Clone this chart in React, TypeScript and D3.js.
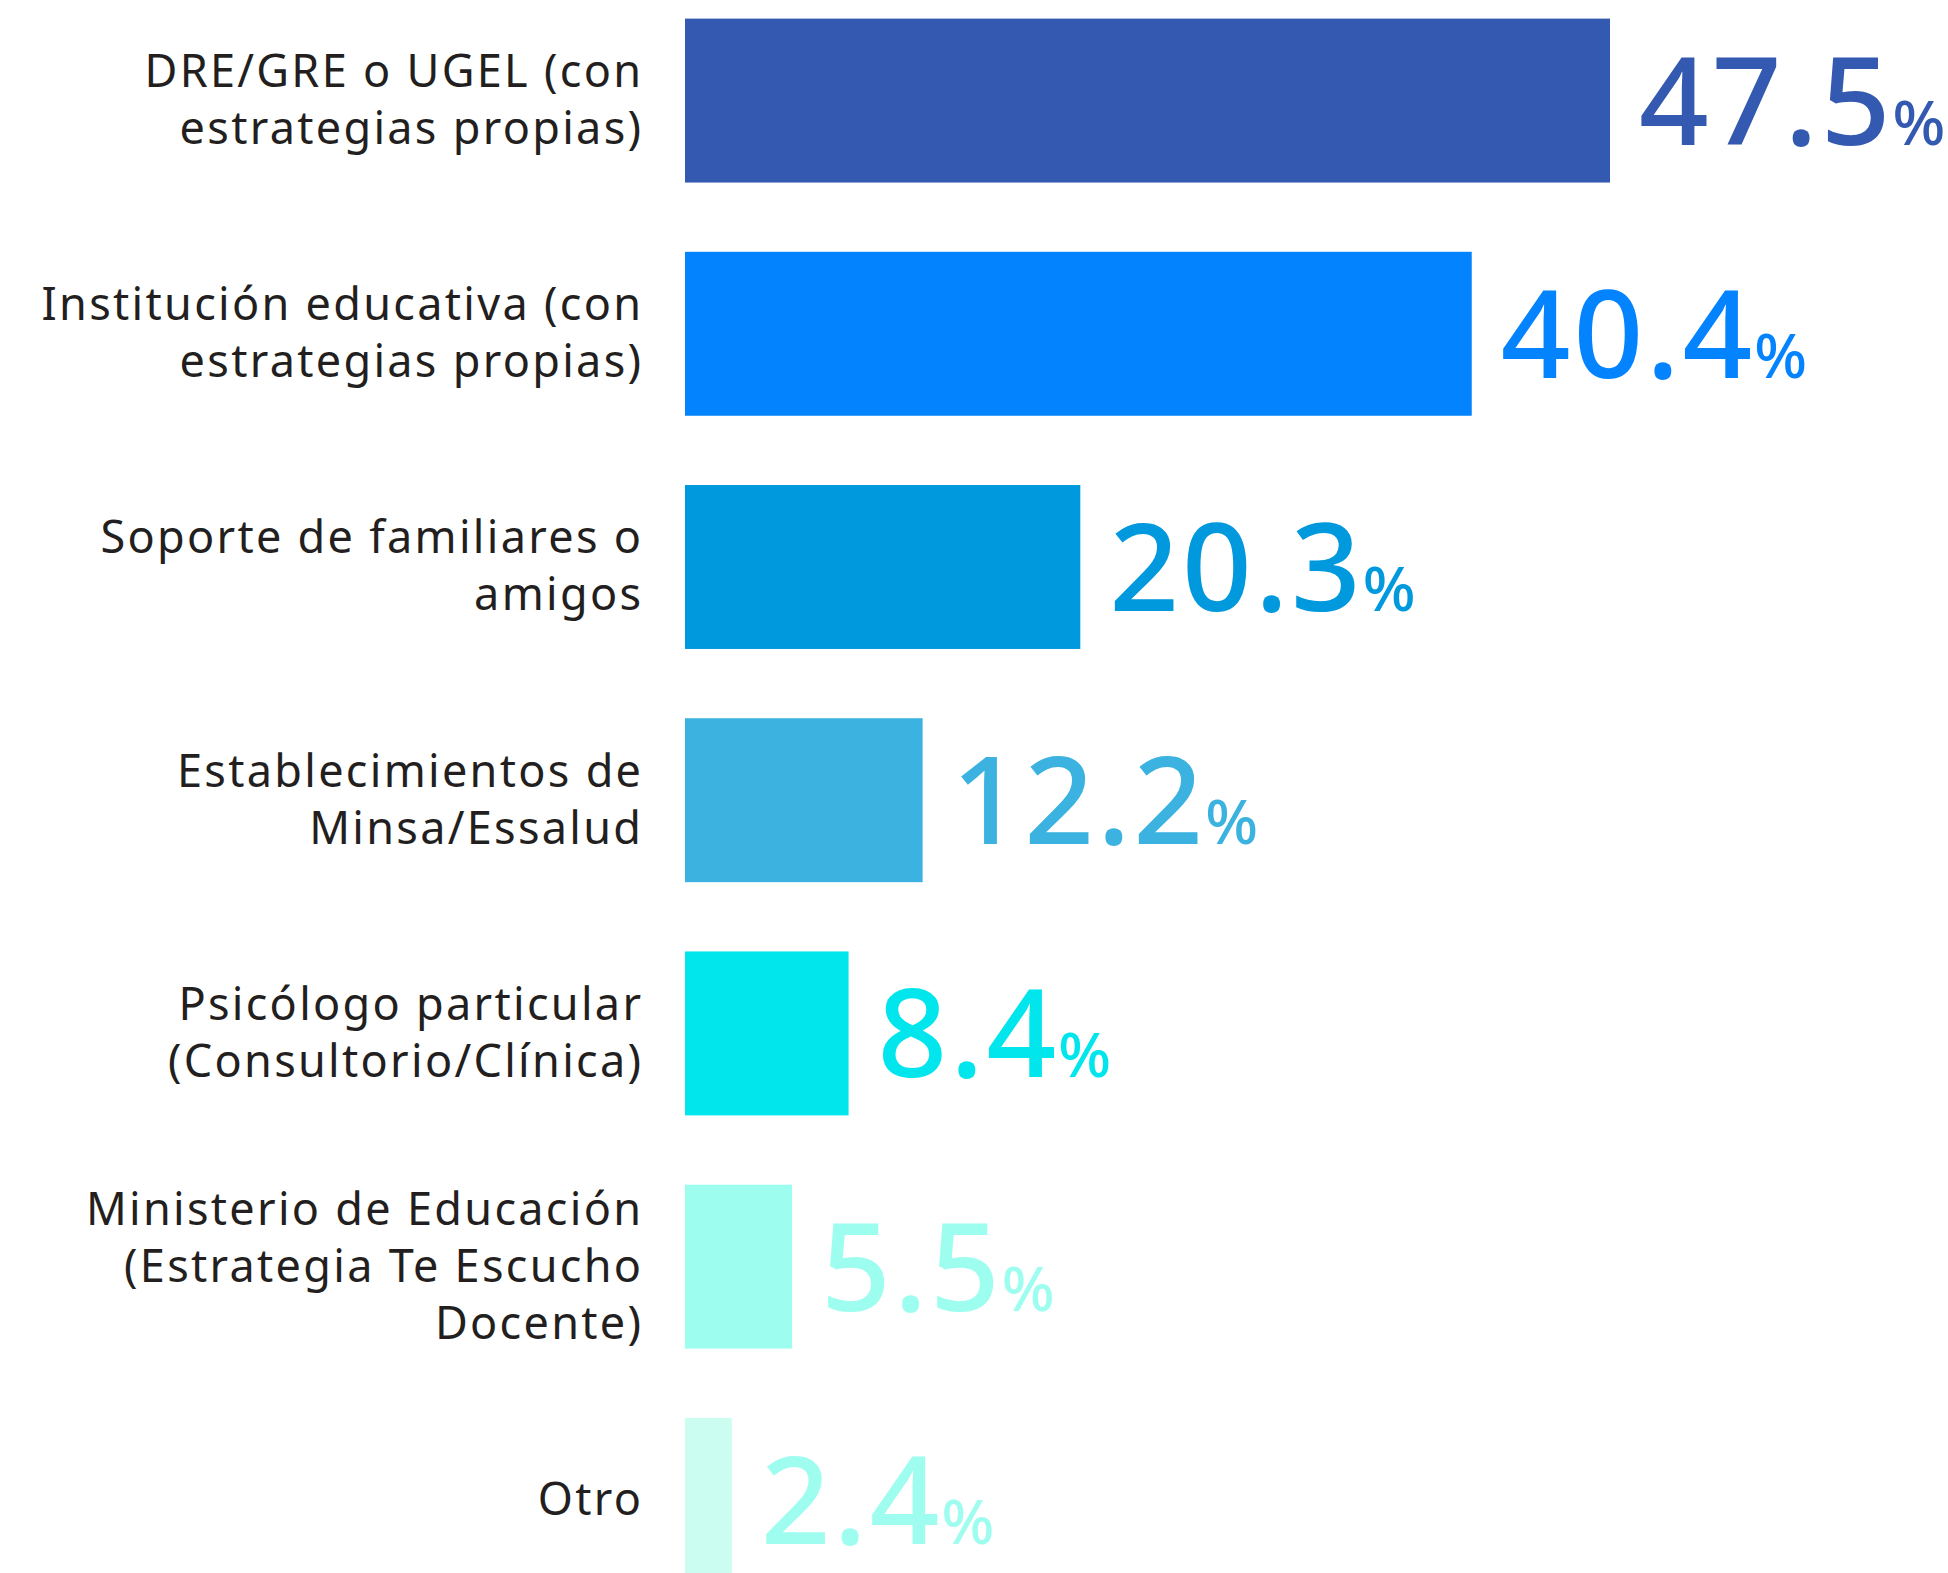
import React, { useEffect, useRef } from 'react';
import * as d3 from 'd3';

const categories = [
  'DRE/GRE o UGEL (con estrategias propias)',
  'Institución educativa (con estrategias propias)',
  'Soporte de familiares o amigos',
  'Establecimientos de Minsa/Essalud',
  'Psicólogo particular (Consultorio/Clínica)',
  'Ministerio de Educación (Estrategia Te Escucho Docente)',
  'Otro'
];

const labelLines = [
  ['DRE/GRE o UGEL (con', 'estrategias propias)'],
  ['Institución educativa (con', 'estrategias propias)'],
  ['Soporte de familiares o', 'amigos'],
  ['Establecimientos de', 'Minsa/Essalud'],
  ['Psicólogo particular', '(Consultorio/Clínica)'],
  ['Ministerio de Educación', '(Estrategia Te Escucho', 'Docente)'],
  ['Otro']
];

const values = [47.5, 40.4, 20.3, 12.2, 8.4, 5.5, 2.4];

const barColors = ['#3459B0', '#0384FE', '#0099DD', '#3BB2DF', '#00E6EC', '#9DFEF0', '#CBFDF0'];
const valueColors = ['#3459B0', '#0384FE', '#0099DD', '#3BB2DF', '#00E6EC', '#9DFEF0', '#9FFDF0'];

const App = () => {
  const svgRef = useRef<SVGSVGElement>(null);

  useEffect(() => {
    const width = 1948;
    const height = 1573;
    const barLeft = 685;
    const labelRight = 641;
    const lineGap = 57;

    const x = d3.scaleLinear()
      .domain([0, 47.5])
      .range([barLeft, 1610]);

    const y = d3.scaleBand<string>()
      .domain(categories)
      .range([18.6, 1581.8])
      .paddingInner(0.297)
      .paddingOuter(0);

    const svg = d3.select(svgRef.current);
    svg.selectAll('*').remove();
    svg.attr('width', width).attr('height', height);

    const rows = svg.append('g')
      .selectAll('g')
      .data(categories)
      .join('g');

    rows.append('rect')
      .attr('x', x(0))
      .attr('y', d => y(d))
      .attr('width', (d, i) => x(values[i]) - x(0))
      .attr('height', y.bandwidth())
      .attr('fill', (d, i) => barColors[i]);

    // category labels, right aligned, centred on the bar
    rows.append('text')
      .attr('text-anchor', 'end')
      .attr('fill', '#231F20')
      .style('font', '400 45px "Noto Sans", sans-serif')
      .style('letter-spacing', '2.3px')
      .each(function (d, i) {
        const lines = labelLines[i];
        const cy = y(d) + y.bandwidth() / 2;
        const first = cy - ((lines.length - 1) / 2) * lineGap + 15;
        d3.select(this).selectAll('tspan')
          .data(lines)
          .join('tspan')
          .attr('x', labelRight + 2.3)
          .attr('y', (l, j) => first + j * lineGap)
          .text(l => l);
      });

    // value labels
    const val = rows.append('text')
      .attr('x', (d, i) => x(values[i]) + 29)
      .attr('y', d => y(d) + y.bandwidth() / 2 + 44)
      .attr('fill', (d, i) => valueColors[i])
      .style('font-family', '"Noto Sans", sans-serif')
      .style('font-weight', 500);

    val.append('tspan')
      .style('font-size', '122px')
      .style('letter-spacing', '3px')
      .text((d, i) => values[i].toFixed(1));

    val.append('tspan')
      .attr('dx', -1)
      .style('font-size', '62px')
      .style('letter-spacing', '0px')
      .text('%');
  }, []);

  return (
    <svg
      ref={svgRef}
      style={{ position: 'absolute', top: 0, left: 0, background: '#fff' }}
    />
  );
};

export default App;
